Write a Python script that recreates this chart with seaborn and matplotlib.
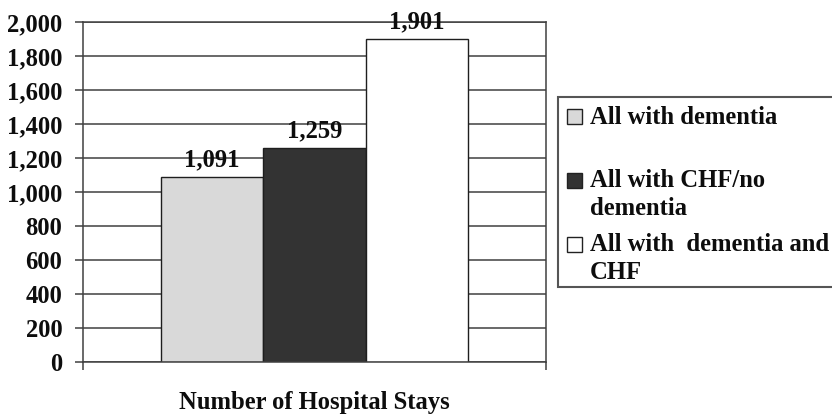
import matplotlib
matplotlib.use("Agg")
import matplotlib.pyplot as plt
from matplotlib.patches import Rectangle
from matplotlib.ticker import FuncFormatter
import pandas as pd
import seaborn as sns

# Chart data
measure = "Number of Hospital Stays"
groups = ["All with dementia", "All with CHF/no dementia", "All with  dementia and CHF"]
legend_labels = ["All with dementia", "All with CHF/no\ndementia", "All with  dementia and\nCHF"]
stays = [1091, 1259, 1901]
bar_colors = ["#d9d9d9", "#333333", "#ffffff"]
y_ticks = [0, 200, 400, 600, 800, 1000, 1200, 1400, 1600, 1800, 2000]

df = pd.DataFrame({"measure": [measure] * len(groups), "group": groups, "stays": stays})

sns.set_style("white")
plt.rcParams["font.family"] = ["Liberation Serif", "DejaVu Serif"]
plt.rcParams["font.weight"] = "bold"

W, H = 832, 417
FS = 17.7
LINE = "#404040"
TEXT = "#0d0d0d"

fig = plt.figure(figsize=(W / 100, H / 100), dpi=100)
fig.patch.set_facecolor("white")

# axes box in pixel terms
x0, x1, y_bot, y_top = 83, 546, 362, 22.3
ax = fig.add_axes([x0 / W, 1 - y_bot / H, (x1 - x0) / W, (y_bot - y_top) / H])

sns.barplot(data=df, x="measure", y="stays", hue="group", hue_order=groups,
            palette=bar_colors, saturation=1, width=0.665,
            edgecolor="#1e1e1e", linewidth=1.0, legend=False, ax=ax)

ax.set_xlim(-0.5, 0.5)
ax.set_ylim(0, 2000)
ax.set_yticks(y_ticks)
ax.yaxis.set_major_formatter(FuncFormatter(lambda v, _: f"{v:,.0f}"))
ax.set_xlabel("")
ax.set_ylabel("")

# horizontal gridlines
ax.set_axisbelow(True)
ax.yaxis.grid(True, color=LINE, linewidth=1.1)
ax.xaxis.grid(False)

for side in ["left", "right", "bottom", "top"]:
    ax.spines[side].set_visible(True)
    ax.spines[side].set_color(LINE)
    ax.spines[side].set_linewidth(1.1)

ax.tick_params(axis="y", which="major", direction="out", length=5.8, width=1.1,
               color=LINE, labelsize=FS, pad=9, left=True)
ax.set_xticks([-0.5, 0.5], minor=True)
ax.tick_params(axis="x", which="minor", direction="out", length=5.8, width=1.1,
               color=LINE, bottom=True)
ax.tick_params(axis="x", which="major", length=0, labelsize=FS, pad=21)
for lbl in ax.get_xticklabels() + ax.get_yticklabels():
    lbl.set_fontweight("bold")
    lbl.set_color(TEXT)

# value labels on top of each bar
for cont in ax.containers:
    ax.bar_label(cont, fmt="{:,.0f}", padding=4, fontsize=FS, fontweight="bold",
                 color=TEXT)

# legend box with square swatches
fig.add_artist(Rectangle((558 / W, 1 - 287 / H), 300 / W, 190 / H,
                         transform=fig.transFigure, facecolor="white",
                         edgecolor="#555555", linewidth=1.5, clip_on=False))
baselines = [124, 188, 252]
for label, color, base in zip(legend_labels, bar_colors, baselines):
    fig.add_artist(Rectangle((567 / W, 1 - base / H), 15 / W, 15 / H,
                             transform=fig.transFigure, facecolor=color,
                             edgecolor="#222222", linewidth=1.0))
    n_lines = label.count("\n")
    fig.text(590 / W, 1 - (base + 27 * n_lines) / H, label, fontsize=FS,
             fontweight="bold", color=TEXT, va="baseline", ha="left",
             linespacing=1.3)

fig.savefig("out.png", dpi=100, facecolor="white")
